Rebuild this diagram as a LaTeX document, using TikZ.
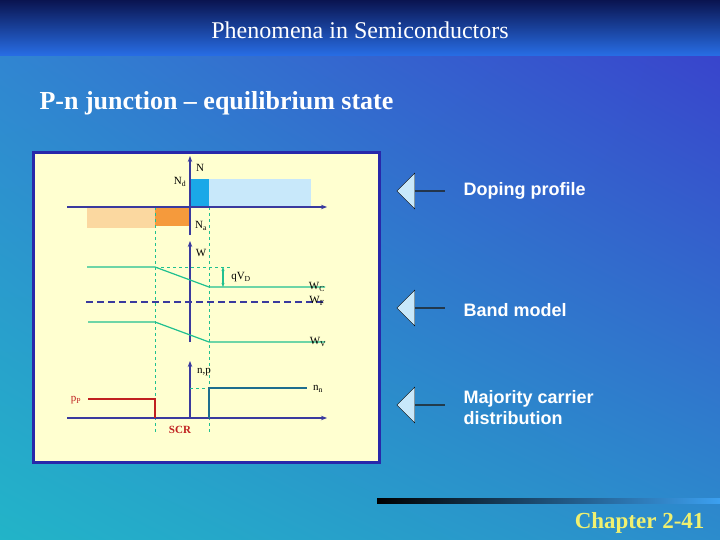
\documentclass[tikz,border=0pt]{standalone}
\usepackage{fontspec}
\setmainfont{Liberation Serif}
\newfontfamily\arialf{Liberation Sans}
\usetikzlibrary{arrows.meta,shapes.arrows,shadings}
\definecolor{panel}{HTML}{FFFFD0}
\definecolor{axb}{HTML}{3A3A9E}
\definecolor{grn}{HTML}{20C090}
\definecolor{dblue}{HTML}{1AA8E8}
\definecolor{lblue}{HTML}{C8E8FA}
\definecolor{dor}{HTML}{F59A3C}
\definecolor{lor}{HTML}{FBD8A0}
\definecolor{redc}{HTML}{C02020}
\definecolor{nnc}{HTML}{1E6E8E}
\definecolor{bgll}{HTML}{22B4C8}
\definecolor{bgur}{HTML}{3A3CCC}
\definecolor{bgul}{HTML}{3280D2}
\definecolor{bglr}{HTML}{2C8CCC}
\definecolor{ttop}{HTML}{0A1450}
\definecolor{tbot}{HTML}{286EE6}
\definecolor{lineend}{HTML}{3CA0F0}
\definecolor{panb}{HTML}{2828AA}
\definecolor{chapc}{HTML}{F0F070}
\tikzset{x=1pt,y=-1pt,
 axis/.style={axb,line width=1.5pt,-{Stealth[length=6pt]}},
 band/.style={grn,line width=1.2pt},
 guide/.style={grn,dashed,line width=0.5pt},
 lab/.style={font=\fontsize{11}{11}\selectfont,inner sep=1pt},
 side/.style={white,font=\arialf\bfseries\fontsize{18}{21}\selectfont,anchor=west,align=left},
 barrow/.style={single arrow,shape border rotate=180,draw=black,fill=lblue,minimum height=48pt,minimum width=36pt,single arrow head extend=8pt,inner sep=0pt}}
\begin{document}
\begin{tikzpicture}
\useasboundingbox (0,0) rectangle (720,540);
\shade[lower left=bgll,upper right=bgur,upper left=bgul,lower right=bglr] (0,540) rectangle (720,0);
\shade[top color=ttop,bottom color=tbot] (0,0) rectangle (720,56);
\node[white,font=\fontsize{24}{24}\selectfont] (title) at (360,30) {Phenomena in Semiconductors};
\node[white,font=\bfseries\fontsize{26}{26}\selectfont,anchor=west] (sub) at (36,103) {P-n junction -- equilibrium state};
\shade[left color=black,right color=lineend] (377,498) rectangle (720,503);
\node[chapc,font=\bfseries\fontsize{23}{23}\selectfont,anchor=east] (chap) at (708,523) {Chapter 2-41};
% panel
\node[draw=panb,line width=2.5pt,fill=panel,minimum width=346pt,minimum height=310pt,inner sep=0pt] (panel) at (206.5,307.5) {};
% doping
\fill[lblue] (209,179) rectangle (311,207);
\fill[dblue] (190,179) rectangle (209,207);
\fill[lor] (87,207) rectangle (155,228);
\fill[dor] (155,207) rectangle (190,226);
\draw[guide] (155,207) -- (155,432);
\draw[guide] (209,207) -- (209,432);
\coordinate (a1) at (67,207); \coordinate (a2) at (327,207);
\coordinate (n0) at (190,235); \coordinate (n1) at (190,156);
\draw[axis] (a1) -- (a2);
\draw[axis] (n0) -- (n1);
\node[lab] (N) at (200,168) {N};
\node[lab] (Nd) at (180,182) {N$_\mathrm{d}$};
\node[lab] (Na) at (201,226) {N$_\mathrm{a}$};
% band
\coordinate (w0) at (190,342); \coordinate (w1) at (190,241);
\draw[axis] (w0) -- (w1);
\node[lab] (W) at (201,253) {W};
\draw[guide] (155,267) -- (230,267);
\draw[band] (87,267) -- (155,267) -- (209,287) -- (325,287);
\draw[band] (88,322) -- (155,322) -- (209,342) -- (325,342);
\draw[grn,line width=1.2pt,{Stealth[length=4pt]}-{Stealth[length=4pt]}] (223,267) -- (223,287);
\node[lab] (qv) at (241,277) {qV$_\mathrm{D}$};
\draw[axb,line width=1.8pt,dash pattern=on 7pt off 4pt] (86,302) -- (323,302);
\node[lab] (Wc) at (317,287) {W$_\mathrm{C}$};
\node[lab] (Wf) at (317,301) {W$_\mathrm{F}$};
\node[lab] (Wv) at (318,342) {W$_\mathrm{V}$};
% carriers
\coordinate (b1) at (67,418); \coordinate (b2) at (327,418);
\coordinate (c0) at (190,418); \coordinate (c1) at (190,361);
\draw[axis] (b1) -- (b2);
\draw[axis] (c0) -- (c1);
\node[lab] (np) at (204,372) {n,p};
\draw[guide] (190,388) -- (209,388);
\draw[nnc,line width=1.2pt] (209,418) -- (209,388) -- (307,388);
\node[lab] (nn) at (318,389) {n$_\mathrm{n}$};
\draw[redc,line width=1.2pt] (88,399) -- (155,399) -- (155,418);
\node[lab,redc] (pp) at (76,400) {p$_\mathrm{P}$};
\node[lab,redc,font=\bfseries\fontsize{11}{11}\selectfont] (scr) at (180,430) {SCR};
% side arrows
\node[barrow] (ar1) at (421,191) {};
\node[barrow] (ar2) at (421,308) {};
\node[barrow] (ar3) at (421,405) {};
\node[side] (t1) at (460,191) {Doping profile};
\node[side] (t2) at (460,310) {Band model};
\node[side] (t3) at (460,408) {Majority carrier\\distribution};
\end{tikzpicture}
\end{document}
